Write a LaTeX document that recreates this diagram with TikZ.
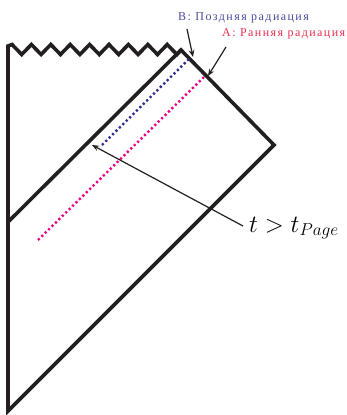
\documentclass[tikz,border=0pt]{standalone}
\usepackage{fontspec}
\newfontfamily\cyr[LetterSpace=12]{Liberation Serif}
\usetikzlibrary{arrows.meta}
\definecolor{ink}{RGB}{35,31,32}
\definecolor{labB}{RGB}{75,75,155}
\definecolor{labA}{RGB}{235,45,80}
\definecolor{dotB}{RGB}{45,45,140}
\definecolor{dotA}{RGB}{235,0,135}
\begin{document}
\begin{tikzpicture}[x=1pt,y=-1pt,
  edge/.style={line width=3.6pt, line join=miter, draw=ink},
  dotline/.style={line width=2.4pt, dash pattern=on 2.2pt off 2.6pt},
  ptr/.style={line width=1.2pt, draw=ink, -{Stealth[length=7pt,width=5.5pt]}},
  lab/.style={inner sep=0pt, anchor=base west, font=\cyr\fontsize{12}{14}\selectfont}]
\useasboundingbox (0,0) rectangle (346,415);
% vertices
\coordinate (BL) at (8,411);
\coordinate (TL) at (8,46);
\coordinate (IL) at (8,222);
\coordinate (AP) at (181,50);
\coordinate (R)  at (274,145);
% diagram edges
\draw[edge] (BL) -- (TL)
  \foreach \k in {0,...,8} { -- ({12+19.4*\k},44.5) -- ({21.7+19.4*\k},54.5) }
  -- (AP) -- (R) -- cycle;
\draw[edge] (IL) -- (AP);
% radiation rays
\coordinate (b1) at (102,145);
\coordinate (b2) at (190,58);
\coordinate (a1) at (38,240);
\coordinate (a2) at (204,77);
\draw[dotline, draw=dotB] (b1) -- (b2);
\draw[dotline, draw=dotA] (a1) -- (a2);
% labels
\node[lab, text=labB] (labB) at (178,20) {B: Поздняя радиация};
\node[lab, text=labA] (labA) at (222,36) {A: Ранняя радиация};
\node[inner sep=0pt, anchor=base west, font=\fontsize{24}{29}\selectfont] (tl) at (249,232) {$t>t_{Page}$};
% pointers
\coordinate (bs) at (187,29);
\coordinate (bt) at (193,57);
\coordinate (as) at (226,47);
\coordinate (at) at (208,76);
\coordinate (ts) at (243,226);
\coordinate (tt) at (92,145);
\draw[ptr] (bs) -- (bt);
\draw[ptr] (as) -- (at);
\draw[ptr] (ts) -- (tt);
\end{tikzpicture}
\end{document}
